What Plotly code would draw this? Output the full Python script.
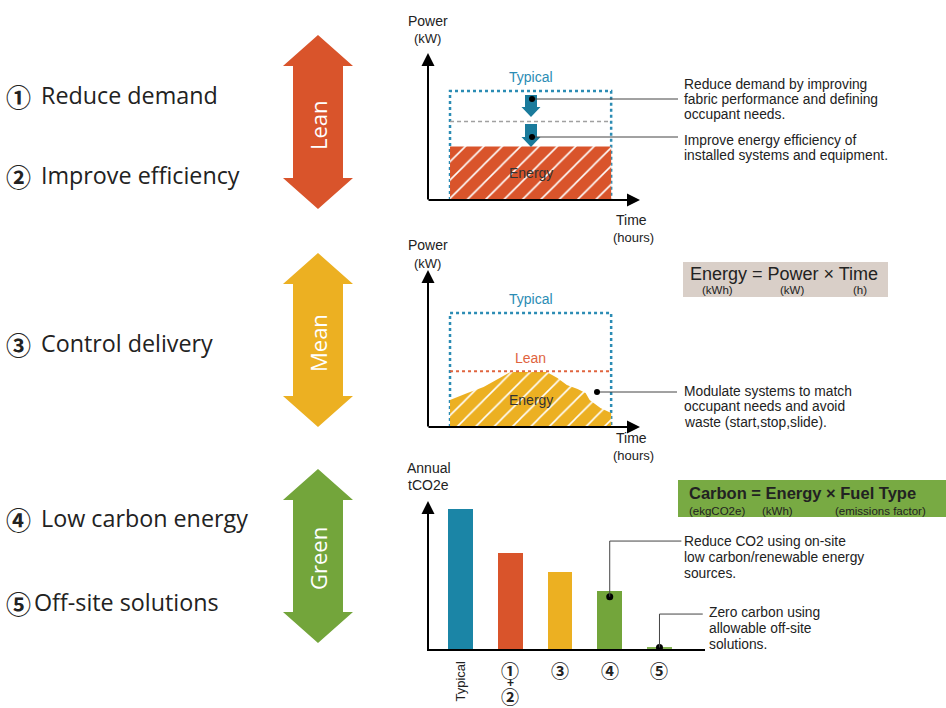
import plotly.graph_objects as go

W, H = 946, 708

# ---------------- data ----------------
step_numbers = ["①", "②", "③", "④", "⑤"]
step_texts = ["Reduce demand", "Improve efficiency", "Control delivery",
              "Low carbon energy", "Off-site solutions"]
stage_names = ["Lean", "Mean", "Green"]

# Power levels (index: typical peak demand = 100)
occupied_hours = [7, 19]
typical_kw = 100
reduced_demand_kw = 72
efficient_kw = 49
lean_kw = 49

# Modulated power profile over the occupied day
profile_hours = [7, 8.3, 9.5, 10.7, 11.5, 14.2, 15.0, 15.7, 16.5, 17.1, 17.4, 18.2, 19]
profile_kw = [23.7, 29.8, 35.1, 43.0, 48.2, 48.2, 43.0, 36.8, 33.3, 29.8, 23.7, 16.7, 12.3]

# Annual carbon for each stage
carbon_labels = ["Typical", "①+②", "③", "④", "⑤"]
annual_tco2e = [100, 69, 55, 42, 2]

# ---------------- styles ----------------
ORANGE = "#D9542B"
AMBER = "#ECB022"
GREEN = "#73A53B"
TEAL = "#1B85A6"
DOTBLUE = "#2B8CB4"
ARROWTEAL = "#1A7B9C"
LEANRED = "#E0643E"
BOX_BEIGE = "#D9CFC8"
BOX_GREEN = "#78AA43"
TEXT = "#222222"
LEFT_FONT = "Open Sans, DejaVu Sans, sans-serif"
SANS = "Liberation Sans, Arial, DejaVu Sans, sans-serif"
CIRCLED = "Noto Sans CJK JP, DejaVu Sans, sans-serif"
bar_colors = [TEAL, ORANGE, AMBER, GREEN, "#86B455"]


def px(x):
    return x / W


def py(y):
    return 1 - y / H


fig = go.Figure()


def text_px(x, y, s, size=13, color=TEXT, family=SANS, anchor="left", angle=0):
    fig.add_annotation(x=px(x), y=py(y), xref="paper", yref="paper", text=s,
                       showarrow=False, xanchor=anchor, yanchor="middle",
                       textangle=angle, borderpad=0,
                       font=dict(size=size, color=color, family=family))


def line_px(x0, y0, x1, y1, color="#444444", width=1, dash="solid"):
    fig.add_shape(type="line", xref="paper", yref="paper",
                  x0=px(x0), y0=py(y0), x1=px(x1), y1=py(y1),
                  line=dict(color=color, width=width, dash=dash))


def dot_px(x, y, r=3):
    fig.add_shape(type="circle", xref="paper", yref="paper",
                  x0=px(x - r), x1=px(x + r), y0=py(y - r), y1=py(y + r),
                  fillcolor="black", line_width=0)


def poly_px(pts, color):
    path = "M " + " L ".join(f"{px(x):.5f},{py(y):.5f}" for x, y in pts) + " Z"
    fig.add_shape(type="path", path=path, xref="paper", yref="paper",
                  fillcolor=color, line_width=0, layer="above")


def axis_arrow(x_tip, y_tip, x_tail, y_tail):
    fig.add_annotation(x=px(x_tip), y=py(y_tip), xref="paper", yref="paper",
                       ax=x_tail - x_tip, ay=y_tail - y_tip, text="",
                       showarrow=True, arrowhead=2, arrowsize=1.3,
                       arrowwidth=2, arrowcolor="black", standoff=0)


def double_arrow(cx, top, height, color, name):
    hh, hs, head = 35, 25, 31
    pts = [(cx, top), (cx + hh, top + head), (cx + hs, top + head),
           (cx + hs, top + height - head), (cx + hh, top + height - head),
           (cx, top + height), (cx - hh, top + height - head),
           (cx - hs, top + height - head), (cx - hs, top + head),
           (cx - hh, top + head)]
    poly_px(pts, color)
    text_px(cx, top + height / 2 + 3, name, size=22, color="white",
            family=LEFT_FONT, anchor="center", angle=-90)


def down_arrow(cx, top, tip):
    sw, hw, hh = 6, 9.5, 10
    poly_px([(cx - sw, top), (cx + sw, top), (cx + sw, tip - hh), (cx + hw, tip - hh),
             (cx, tip), (cx - hw, tip - hh), (cx - sw, tip - hh)], ARROWTEAL)


# ---------------- axes ----------------
hidden = dict(visible=False, fixedrange=True)
fig.update_layout(
    xaxis=dict(domain=[px(428), px(638)], range=[5.36, 21.0], **hidden),
    yaxis=dict(domain=[py(200), py(55)], range=[0, 133], **hidden),
    xaxis2=dict(domain=[px(428), px(638)], range=[5.36, 21.0], anchor="y2", **hidden),
    yaxis2=dict(domain=[py(427), py(272)], range=[0, 136], anchor="x2", **hidden),
    xaxis3=dict(domain=[px(428), px(705)], range=[-0.653, 4.915], anchor="y3",
                type="category", **hidden),
    yaxis3=dict(domain=[py(650), py(503)], range=[0, 104.3], anchor="x3", **hidden),
)

# ---------------- left column ----------------
for num, s, y, xt in zip(step_numbers, step_texts, [95, 175, 343, 518, 602],
                         [40, 40, 40, 40, 33]):
    text_px(18, y + 1, f"<b>{num}</b>", size=25, family=CIRCLED, anchor="center")
    text_px(xt, y, s, size=23.3, family=LEFT_FONT)

for name, top, col in zip(stage_names, [35, 253, 469], [ORANGE, AMBER, GREEN]):
    double_arrow(318, top, 174, col, name)

# ---------------- top chart: demand & efficiency ----------------
h0, h1 = occupied_hours
fig.add_trace(go.Scatter(x=[h0, h0, h1, h1], y=[0, typical_kw, typical_kw, 0],
                         mode="lines", line=dict(color=DOTBLUE, width=2.5, dash="3px,3px"),
                         xaxis="x", yaxis="y", hoverinfo="skip"))
fig.add_trace(go.Scatter(x=[h0, h1], y=[reduced_demand_kw, reduced_demand_kw],
                         mode="lines", line=dict(color="#A0A0A0", width=1.5, dash="4px,3px"),
                         xaxis="x", yaxis="y", hoverinfo="skip"))
fig.add_trace(go.Scatter(x=[h0, h0, h1, h1, h0], y=[0, efficient_kw, efficient_kw, 0, 0],
                         mode="lines", fill="toself", line=dict(width=0, color=ORANGE),
                         fillcolor=ORANGE,
                         fillpattern=dict(shape="/", fgcolor="white", bgcolor=ORANGE,
                                          size=13, solidity=0.12, fillmode="replace"),
                         xaxis="x", yaxis="y", hoverinfo="skip"))
fig.add_annotation(x=(h0 + h1) / 2, y=typical_kw, xref="x", yref="y", text="Typical",
                   showarrow=False, yshift=14, font=dict(size=14, color=DOTBLUE, family=SANS))
fig.add_annotation(x=(h0 + h1) / 2, y=efficient_kw / 2, xref="x", yref="y", text="Energy",
                   showarrow=False, font=dict(size=14, color="#333333", family=SANS))

down_arrow(531, 95, 117)
down_arrow(531, 124, 147)
line_px(532, 99, 678, 99)
line_px(532, 137, 678, 137)
dot_px(532, 99)
dot_px(532, 137)

axis_arrow(428, 53, 428, 201)
axis_arrow(640, 200, 427, 200)
text_px(428, 21, "Power", size=14, anchor="center")
text_px(427, 38, "(kW)", size=13, anchor="center")
text_px(631, 220, "Time", size=14, anchor="center")
text_px(633, 237, "(hours)", size=13, anchor="center")

for s, y in zip(["Reduce demand by improving", "fabric performance and defining",
                 "occupant needs."], [85, 99.5, 114]):
    text_px(683, y, s, size=13.8)
for s, y in zip(["Improve energy efficiency of", "installed systems and equipment."],
                [140, 155]):
    text_px(683, y, s, size=13.8)

# ---------------- middle chart: control delivery ----------------
fig.add_trace(go.Scatter(x=[h0, h0, h1, h1], y=[0, typical_kw, typical_kw, 0],
                         mode="lines", line=dict(color=DOTBLUE, width=2.5, dash="3px,3px"),
                         xaxis="x2", yaxis="y2", hoverinfo="skip"))
fig.add_trace(go.Scatter(x=[h0] + profile_hours + [h1, h0], y=[0] + profile_kw + [0, 0],
                         mode="lines", fill="toself", line=dict(width=0, color=AMBER),
                         fillcolor=AMBER,
                         fillpattern=dict(shape="/", fgcolor="white", bgcolor=AMBER,
                                          size=13, solidity=0.12, fillmode="replace"),
                         xaxis="x2", yaxis="y2", hoverinfo="skip"))
fig.add_trace(go.Scatter(x=[h0, h1], y=[lean_kw, lean_kw],
                         mode="lines", line=dict(color=LEANRED, width=2, dash="3px,3px"),
                         xaxis="x2", yaxis="y2", hoverinfo="skip"))
fig.add_annotation(x=(h0 + h1) / 2, y=typical_kw, xref="x2", yref="y2", text="Typical",
                   showarrow=False, yshift=14, font=dict(size=14, color=DOTBLUE, family=SANS))
fig.add_annotation(x=(h0 + h1) / 2, y=lean_kw, xref="x2", yref="y2", text="Lean",
                   showarrow=False, yshift=13, font=dict(size=14, color=LEANRED, family=SANS))
fig.add_annotation(x=(h0 + h1) / 2, y=profile_kw[0], xref="x2", yref="y2", text="Energy",
                   showarrow=False, font=dict(size=14, color="#333333", family=SANS))

line_px(597, 392, 677, 392)
dot_px(597, 392)

axis_arrow(428, 270, 428, 428)
axis_arrow(640, 427, 427, 427)
text_px(428, 245, "Power", size=14, anchor="center")
text_px(427, 263, "(kW)", size=13, anchor="center")
text_px(631, 438, "Time", size=14, anchor="center")
text_px(633, 456, "(hours)", size=13, anchor="center")

fig.add_shape(type="rect", xref="paper", yref="paper", x0=px(683), x1=px(888),
              y0=py(297), y1=py(262), fillcolor=BOX_BEIGE, line_width=0, layer="below")
text_px(784, 274, "Energy = Power × Time", size=18, anchor="center")
text_px(717, 290, "(kWh)", size=11.5, anchor="center")
text_px(792, 290, "(kW)", size=11.5, anchor="center")
text_px(860, 290, "(h)", size=11.5, anchor="center")

for s, y in zip(["Modulate systems to match", "occupant needs and avoid",
                 "waste (start,stop,slide)."], [391, 406.5, 422]):
    text_px(683, y, s, size=13.8)

# ---------------- bottom chart: annual carbon ----------------
fig.add_trace(go.Bar(x=carbon_labels, y=annual_tco2e, marker=dict(color=bar_colors, line_width=0),
                     width=0.5, xaxis="x3", yaxis="y3", hoverinfo="skip"))

# callouts from the low-carbon and off-site bars
for idx, elbow, end in [(3, 77.3, 4.44), (4, 25.5, 4.87)]:
    v = annual_tco2e[idx] * 0.9
    fig.add_shape(type="line", xref="x3", yref="y3", x0=idx, x1=idx, y0=v, y1=elbow,
                  line=dict(color="#444444", width=1))
    fig.add_shape(type="line", xref="x3", yref="y3", x0=idx, x1=end, y0=elbow, y1=elbow,
                  line=dict(color="#444444", width=1))
fig.add_trace(go.Scatter(x=[carbon_labels[3], carbon_labels[4]],
                         y=[annual_tco2e[3] * 0.9, annual_tco2e[4] * 0.9],
                         mode="markers", marker=dict(color="black", size=7),
                         xaxis="x3", yaxis="y3", hoverinfo="skip"))

axis_arrow(428, 501, 428, 651)
line_px(427, 650, 705, 650, color="black", width=2)
text_px(429, 468, "Annual", size=14, anchor="center")
text_px(428, 485, "tCO2e", size=14, anchor="center")

# category labels under the bars
fig.add_annotation(x=carbon_labels[0], y=py(681), xref="x3", yref="paper", text="Typical",
                   textangle=-90, showarrow=False, yanchor="middle",
                   font=dict(size=13, color=TEXT, family=SANS))
for s, y, sz in zip(["①", "+", "②"], [670, 683, 696], [18, 12, 18]):
    fig.add_annotation(x=carbon_labels[1], y=py(y), xref="x3", yref="paper",
                       text=f"<b>{s}</b>", showarrow=False, yanchor="middle", borderpad=0,
                       font=dict(size=sz, color=TEXT, family=CIRCLED if s != "+" else SANS))
for lab in carbon_labels[2:]:
    fig.add_annotation(x=lab, y=py(670), xref="x3", yref="paper", text=f"<b>{lab}</b>",
                       showarrow=False, yanchor="middle",
                       font=dict(size=18, color=TEXT, family=CIRCLED))

fig.add_shape(type="rect", xref="paper", yref="paper", x0=px(678), x1=px(946),
              y0=py(517), y1=py(480), fillcolor=BOX_GREEN, line_width=0, layer="below")
text_px(688, 493, "<b>Carbon = Energy × Fuel Type</b>", size=16.5)
text_px(688, 511, "(ekgCO2e)", size=11.5)
text_px(777, 511, "(kWh)", size=11.5, anchor="center")
text_px(880, 511, "(emissions factor)", size=11.5, anchor="center")

for s, y in zip(["Reduce CO2 using on-site", "low carbon/renewable energy", "sources."],
                [541, 557, 573]):
    text_px(683, y, s, size=13.8)
for s, y in zip(["Zero carbon using", "allowable off-site", "solutions."],
                [612, 628, 644]):
    text_px(708, y, s, size=13.8)

fig.update_layout(width=W, height=H, margin=dict(l=0, r=0, t=0, b=0),
                  paper_bgcolor="white", plot_bgcolor="white", showlegend=False,
                  bargap=0)

fig.write_html("out.html")
